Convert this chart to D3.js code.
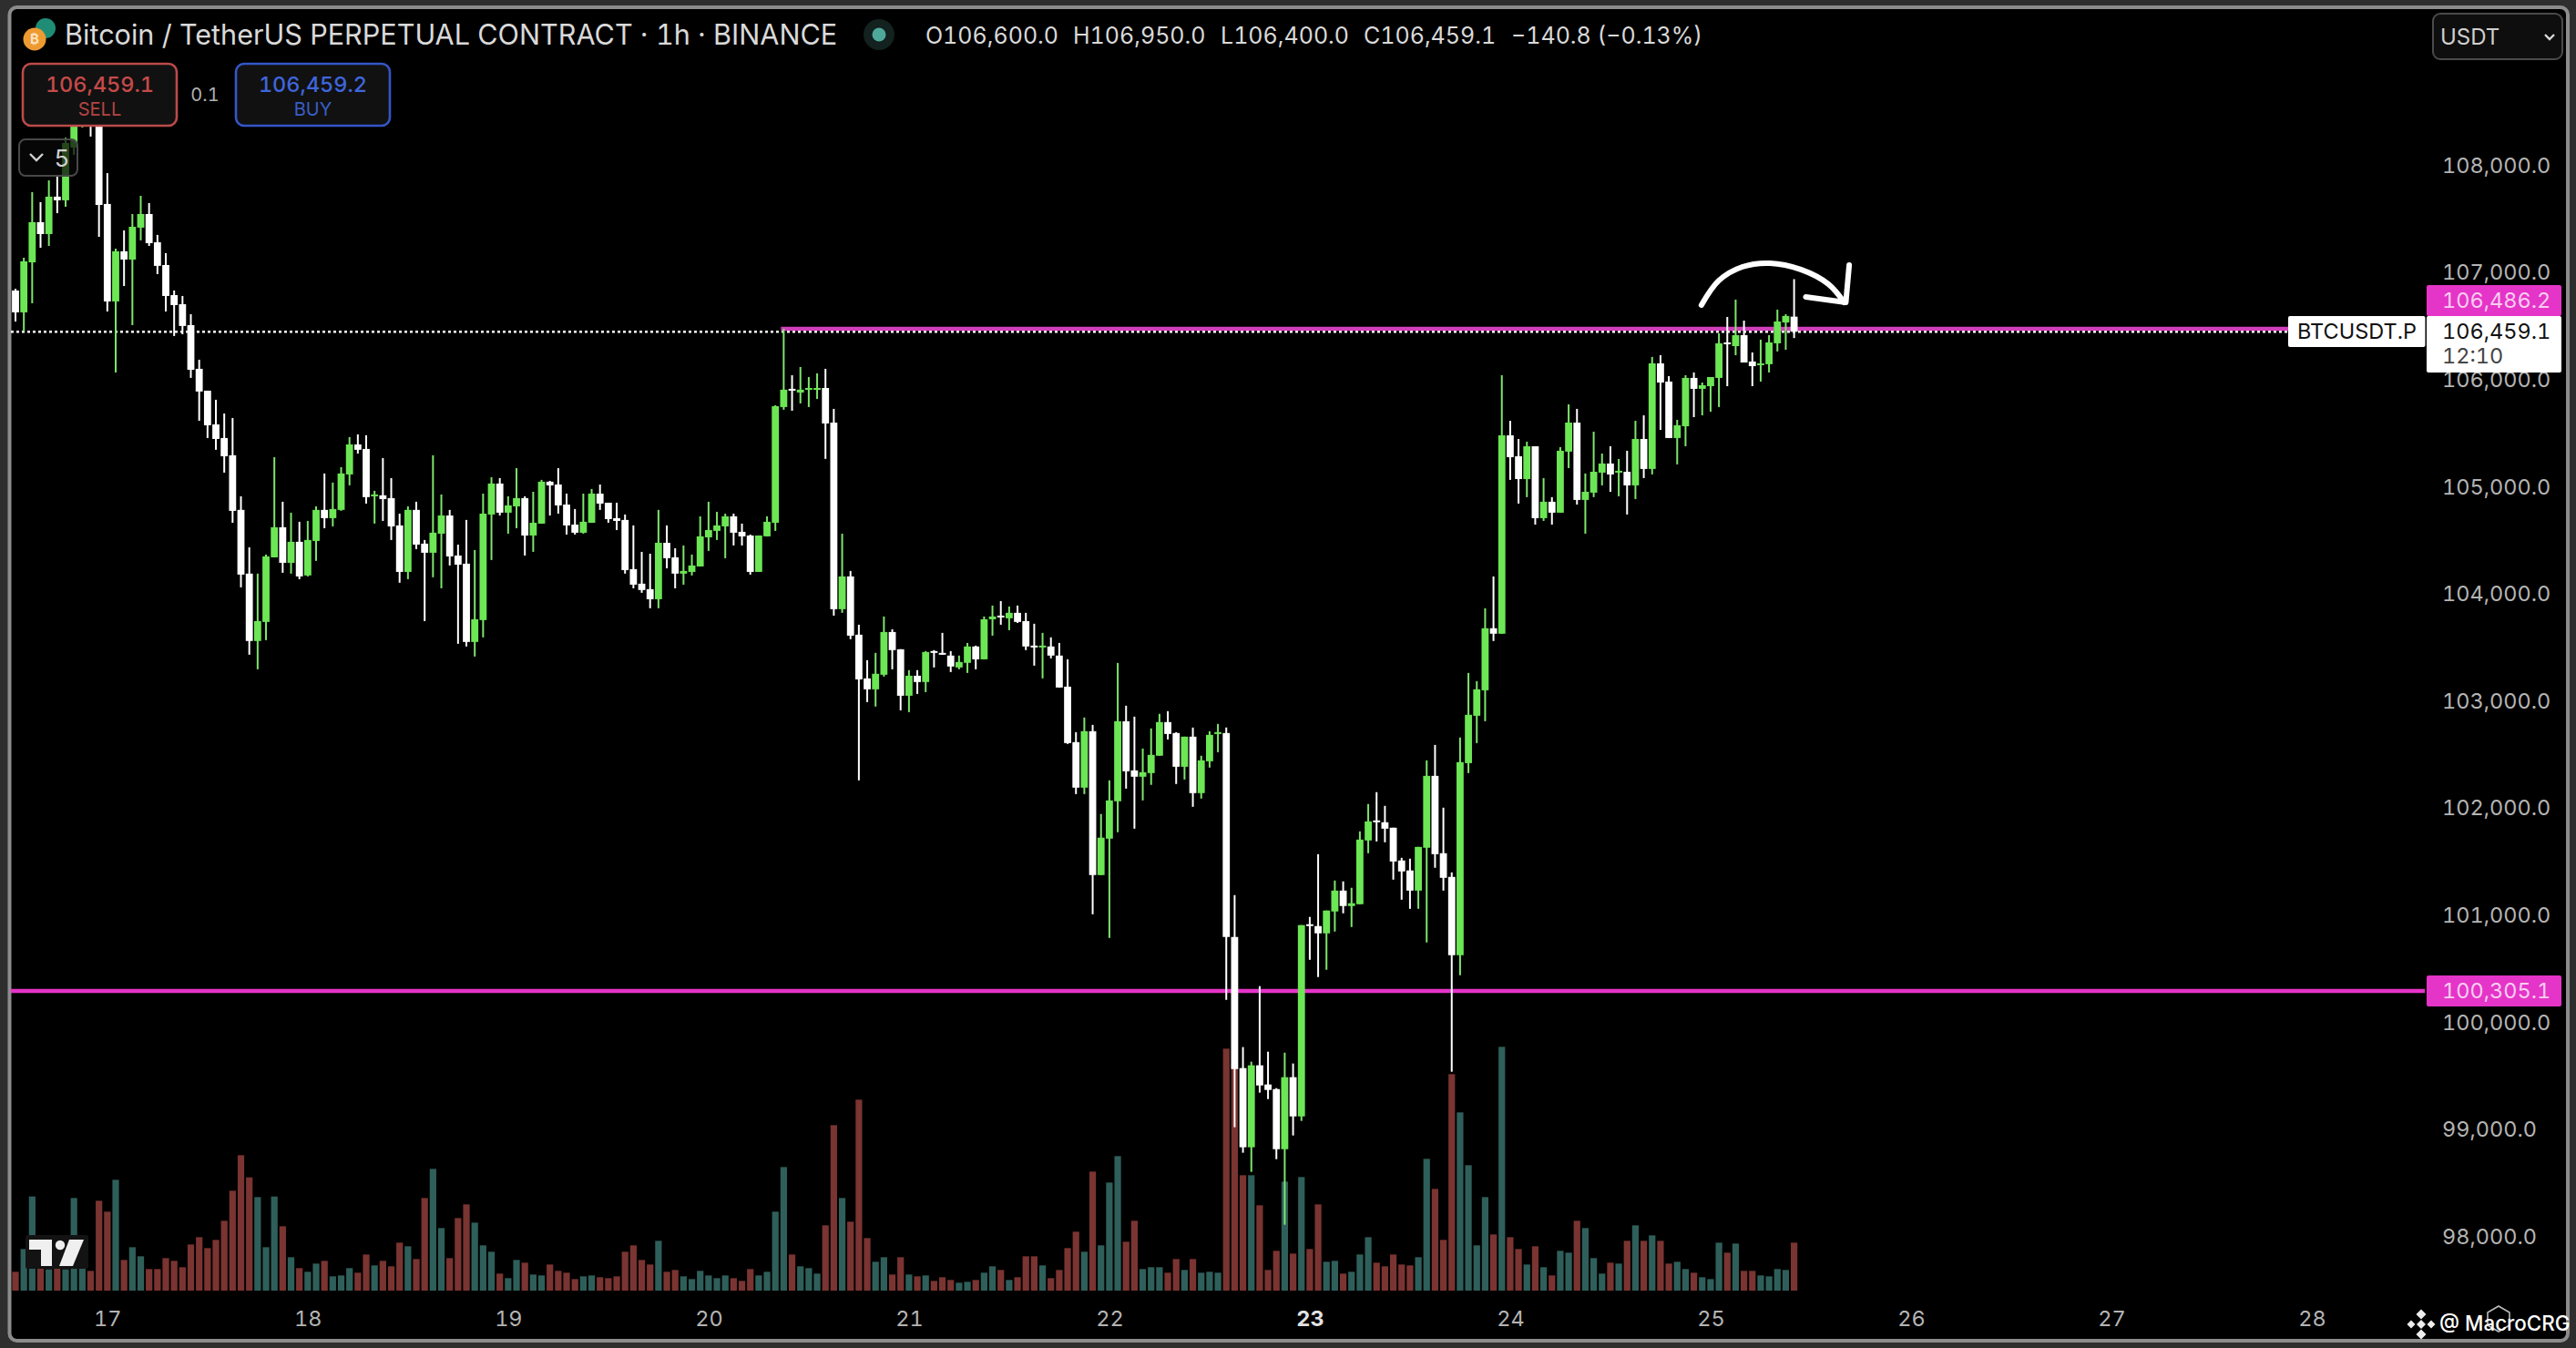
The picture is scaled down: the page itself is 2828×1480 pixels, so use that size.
<!DOCTYPE html>
<html>
<head>
<meta charset="utf-8">
<script src="https://cdnjs.cloudflare.com/ajax/libs/d3/7.9.0/d3.min.js"></script>
<style>
html,body{margin:0;padding:0;background:#2e2e2e;overflow:hidden}
svg{display:block}
text{font-family:Inter,"Noto Sans",sans-serif;font-variant-numeric:tabular-nums;font-feature-settings:"tnum" 1}
</style>
</head>
<body>
<svg id="c" width="2828" height="1480"></svg>
<script>
const opens=[
106844,106640,107107,107482,107371,107720,107686,108179,108468,108552,
108493,107652,106742,107210,107133,107431,107558,107294,107082,106801,
106716,106521,106113,105909,105594,105467,105306,104796,104201,103572,
103750,104353,104634,104302,104498,104184,104506,104796,104719,104796,
105127,105407,105365,104923,104932,104906,104651,104217,104796,104481,
104396,104574,104744,104370,104294,103563,103767,104753,105042,104770,
104829,104906,104557,104668,105059,105033,104846,104659,104583,104676,
104948,104863,104719,104702,104243,104107,104056,103962,104489,104353,
104201,104217,104268,104540,104600,104642,104736,104591,104557,104217,
104549,104676,105756,105926,105892,105926,105926,105934,105611,103869,
104175,103631,103223,103121,103257,103656,103495,103061,103248,103189,
103478,103461,103436,103325,103368,103521,103401,103775,103809,103784,
103835,103758,103529,103512,103521,103436,103146,102628,102203,102730,
101387,101727,102076,102823,102364,102305,102339,102501,102815,102713,
102398,102679,102152,102449,102713,102713,100809,99585,98846,99611,
99432,99389,98828,99500,99134,100928,100911,100843,101047,101242,
101098,101115,101710,101897,101880,101829,101523,101430,101242,101642,
102313,101591,101370,100639,102432,102874,103112,103691,103640,105492,
105297,105084,105390,104719,104872,104770,105340,105611,104889,104957,
105144,105229,105144,105152,105025,105458,105178,106164,105994,105467,
105577,106028,105926,105951,106028,106359,106325,106427,106181,106147,
106156,106351,106546,106600];
const closes=[
106640,107116,107482,107371,107720,107686,108221,108468,108552,108493,
107643,106742,107210,107133,107439,107558,107286,107074,106793,106708,
106513,106104,105901,105586,105458,105297,104787,104192,103572,103758,
104362,104634,104302,104498,104175,104515,104796,104719,104804,105136,
105407,105357,104915,104940,104897,104642,104217,104796,104472,104396,
104583,104744,104362,104285,103563,103775,104761,105042,104770,104838,
104906,104557,104676,105059,105025,104838,104651,104583,104685,104948,
104855,104710,104693,104234,104098,104048,103962,104489,104345,104201,
104226,104277,104549,104608,104651,104736,104583,104549,104217,104557,
104685,105764,105918,105909,105918,105934,105934,105603,103869,104175,
103622,103214,103121,103266,103656,103487,103061,103248,103189,103469,
103461,103444,103334,103376,103521,103401,103775,103801,103792,103835,
103750,103521,103512,103529,103436,103138,102619,102203,102730,101387,
101736,102084,102823,102356,102305,102347,102509,102815,102704,102398,
102679,102152,102458,102696,102721,100809,99576,98846,99611,99423,
99381,98828,99500,99134,100920,100911,100843,101056,101242,101098,
101124,101718,101888,101888,101820,101514,101421,101242,101650,102313,
101582,101361,100639,102441,102883,103121,103691,103640,105492,105288,
105084,105390,104719,104872,104770,105348,105611,104889,104965,105152,
105229,105127,105161,105025,105458,105178,106164,105985,105467,105586,
106028,105926,105960,106036,106351,106342,106427,106172,106138,106164,
106359,106555,106606,106459.1];
const highs=[
106861,107150,107762,107669,107872,107906,108270,108536,108663,108620,
108578,107940,107235,107405,107558,107728,107660,107363,107193,106844,
106793,106623,106198,105909,105824,105696,105654,104923,104447,104201,
104379,105288,104872,104770,104685,104693,104829,105136,105051,105195,
105476,105501,105493,104974,105280,105093,104761,104829,104872,104515,
105306,104940,104796,104472,104702,104421,104948,105101,105093,104923,
105186,104923,104965,105076,105067,105186,104948,104804,104948,104991,
105033,104863,104863,104753,104651,104404,104387,104796,104651,104438,
104464,104379,104736,104872,104778,104761,104761,104668,104566,104557,
104736,105773,106486,106053,106130,106036,106071,106113,105739,104574,
104226,103724,103393,103461,103801,103682,103495,103300,103300,103478,
103487,103648,103478,103436,103554,103529,103801,103903,103945,103894,
103903,103835,103733,103648,103606,103554,103401,102721,102858,102789,
101957,102271,103367,102968,102866,102568,102756,102892,102917,102721,
102679,102764,102501,102730,102798,102764,101200,99781,99645,100350,
99738,99398,99729,99628,100920,100996,101582,101056,101336,101328,
101268,101795,102050,102161,102033,101829,101548,101540,101650,102458,
102602,102016,101412,102670,103274,103197,103878,104175,106053,105628,
105458,105433,105390,105093,104915,105382,105781,105739,105136,105526,
105322,105390,105271,105348,105628,105679,106224,106240,106045,105637,
106053,106079,105985,106036,106444,106597,106759,106563,106266,106385,
106427,106665,106623,106950];
const lows=[
106555,106462,106725,107243,107260,107566,107626,108111,108366,108281,
107345,106648,106079,106886,106521,107312,107260,106997,106648,106419,
106436,106028,105628,105467,105357,105144,104676,104073,103444,103308,
103580,104353,104209,104201,104149,104175,104320,104625,104642,104787,
105025,105322,104855,104668,104693,104515,104116,104149,104430,103758,
104167,104064,104277,103546,103521,103427,103606,104328,104744,104574,
104625,104370,104404,104668,104744,104761,104566,104566,104574,104676,
104796,104676,104608,104201,104064,104022,103878,103878,104251,104064,
104098,104184,104268,104413,104515,104345,104464,104464,104192,104217,
104549,104600,105731,105722,105790,105756,105832,105272,103809,103835,
103589,102271,103002,102960,103240,103308,102925,102908,103078,103095,
103325,103444,103282,103308,103274,103308,103401,103622,103724,103673,
103741,103487,103342,103223,103410,103138,102611,102143,102143,101021,
101387,100800,101787,102194,101820,102084,102229,102501,102653,102237,
102279,102024,102101,102390,102534,100222,99033,98795,98616,99356,
99296,98735,98123,98956,99092,100596,100435,100503,100860,101030,
100902,101115,101591,101701,101693,101344,101157,101072,101072,100758,
101455,101242,99551,100452,102339,102619,102823,103572,103640,105076,
104855,104915,104659,104693,104659,104770,105186,104846,104574,104915,
105025,104965,104923,104753,104897,105093,105127,105543,105467,105221,
105390,105662,105679,105713,105756,105951,106240,106172,105951,105994,
106079,106275,106291,106400];
const volumes=[
62,137,310,100,70,80,70,305,125,65,
296,260,365,101,143,113,71,71,107,98,
77,152,176,140,167,230,329,446,373,308,
143,310,212,110,74,62,89,98,47,50,
74,59,119,83,98,80,158,146,104,305,
401,206,107,239,284,224,149,128,56,41,
101,92,53,50,86,65,59,38,47,50,
44,41,47,128,149,101,86,164,62,68,
47,38,65,50,41,50,41,32,71,50,
62,260,407,119,80,74,56,215,545,305,
227,629,173,95,110,53,110,53,47,50,
32,44,35,26,29,35,59,80,68,35,
44,113,113,83,41,68,140,194,128,392,
149,356,443,161,230,71,77,77,59,104,
68,104,59,62,59,797,750,380,380,281,
68,131,359,122,374,137,284,95,98,56,
62,119,176,92,80,119,86,83,110,434,
335,167,713,587,413,149,308,185,803,176,
137,86,146,77,50,131,125,230,206,107,
56,92,89,164,215,164,182,164,89,95,
71,59,44,38,158,125,155,65,65,50,
47,71,68,158];
const priceTicks=[108000,107000,106000,105000,104000,103000,102000,101000,100000,99000,98000];
const dayLabels=[17,18,19,20,21,22,23,24,25,26,27,28];
const resistance=106486.2, support=100305.1, lastPrice=106459.1;
const titleText="Bitcoin / TetherUS PERPETUAL CONTRACT · 1h · BINANCE";
const ohlcParts=["O106,600.0","H106,950.0","L106,400.0","C106,459.1","−140.8 (−0.13%)"];
// hand-drawn annotation, in (bar index, price)
const curveBars=[201.9,204.0,206.8,210.1,213.8,217.1,219.0];
const curvePrices=[106708,106938,107065,107099,107040,106904,106733];
const headBars=[214.4,219.2,219.6];
const headPrices=[106784,106733,107082];

const svg=d3.select("#c");
const x=d3.scaleLinear().domain([0,213]).range([17,1969.6]);
const y=d3.scaleLinear().domain([98000,108000]).range([1359.1,183]);
const v=d3.scaleLinear().domain([0,900]).range([1417,1117]);
const GREEN="#6ce655",WHITE="#ffffff",MAG="#e534c8",TXT="#b4b4b4";

// frame
svg.append("rect").attr("width",2828).attr("height",1480).attr("fill","#2e2e2e");
svg.append("rect").attr("x",10.5).attr("y",8).attr("width",2808.5).attr("height",1464).attr("rx",8)
  .attr("fill","#000").attr("stroke","#8c8c8c").attr("stroke-width",4);

const data=opens.map((o,i)=>({i,o,c:closes[i],h:highs[i],l:lows[i],vol:volumes[i]}));

// volume
svg.append("g").selectAll("rect").data(data).join("rect")
  .attr("x",d=>x(d.i)-3.6).attr("width",7.2)
  .attr("y",d=>v(d.vol)).attr("height",d=>v(0)-v(d.vol))
  .attr("fill",d=>d.c>=d.o?"#2f5f5a":"#7a3431");

// horizontal levels
svg.append("line").attr("x1",12).attr("x2",2512).attr("y1",y(lastPrice)).attr("y2",y(lastPrice))
  .attr("stroke","#fff").attr("stroke-width",2.4).attr("stroke-dasharray","3 3");
svg.append("line").attr("x1",x(92)-3).attr("x2",2512).attr("y1",y(resistance)).attr("y2",y(resistance))
  .attr("stroke","#d23fba").attr("stroke-width",4.4);
svg.append("line").attr("x1",12).attr("x2",2662).attr("y1",y(support)).attr("y2",y(support))
  .attr("stroke",MAG).attr("stroke-width",4.4);

// candles
const cg=svg.append("g");
cg.selectAll("line").data(data).join("line")
  .attr("x1",d=>x(d.i)).attr("x2",d=>x(d.i)).attr("y1",d=>y(d.h)).attr("y2",d=>y(d.l))
  .attr("stroke",d=>d.c>=d.o?"#7de56b":WHITE).attr("stroke-width",2);
cg.selectAll("rect").data(data).join("rect")
  .attr("x",d=>x(d.i)-3.9).attr("width",7.8)
  .attr("y",d=>y(Math.max(d.o,d.c)))
  .attr("height",d=>Math.max(2,Math.abs(y(d.o)-y(d.c))))
  .attr("fill",d=>d.c>=d.o?GREEN:WHITE);

// hand-drawn arrow
const ln=d3.line().x(d=>x(d[0])).y(d=>y(d[1]));
svg.append("path").attr("d",ln.curve(d3.curveCatmullRom)(curveBars.map((b,i)=>[b,curvePrices[i]])))
  .attr("fill","none").attr("stroke","#fff").attr("stroke-width",6).attr("stroke-linecap","round");
svg.append("path").attr("d",d3.line().x(d=>x(d[0])).y(d=>y(d[1]))(headBars.map((b,i)=>[b,headPrices[i]])))
  .attr("fill","none").attr("stroke","#fff").attr("stroke-width",6).attr("stroke-linecap","round").attr("stroke-linejoin","round");

// price axis
const ya=svg.append("g").attr("transform","translate(2681,-2)")
  .call(d3.axisRight(y).tickValues(priceTicks).tickSize(0).tickPadding(0).tickFormat(d3.format(",.1f")));
ya.select(".domain").remove();
ya.selectAll("text").attr("font-size",23.5).attr("fill",TXT).attr("font-family","Inter").attr("dy","0.35em");

// time axis
const tickIdx=dayLabels.map(d=>11+24*(d-17));
const xa=svg.append("g").attr("transform","translate(0,1448)")
  .call(d3.axisBottom(x).tickValues(tickIdx).tickSize(0).tickPadding(0).tickFormat(i=>dayLabels[tickIdx.indexOf(i)]));
xa.select(".domain").remove();
xa.selectAll("text").attr("font-size",23.5).attr("font-family","Inter").attr("dy","0.35em")
  .attr("font-weight",(d,i)=>dayLabels[i]===23?700:400).attr("fill",(d,i)=>dayLabels[i]===23?"#e2e2e2":TXT);

// price labels
function priceTag(y0,h,txt,fill,color){
  svg.append("rect").attr("x",2664).attr("y",y0).attr("width",148).attr("height",h).attr("rx",2).attr("fill",fill);
  svg.append("text").attr("x",2681).attr("y",y0+17).attr("dy","0.35em").attr("font-size",23.5).attr("fill",color).text(txt);
}
priceTag(313,34,d3.format(",.1f")(resistance),MAG,"#f8cdf0");
priceTag(347,62,d3.format(",.1f")(lastPrice),"#fff","#111");
svg.append("text").attr("x",2681).attr("y",391).attr("dy","0.35em").attr("font-size",23.5).attr("fill","#444").text("12:10");
priceTag(1071,34,d3.format(",.1f")(support),MAG,"#f8cdf0");
svg.append("rect").attr("x",2512).attr("y",347).attr("width",150.5).attr("height",34).attr("rx",2).attr("fill","#fff");
svg.append("text").attr("x",2522).attr("y",364).attr("dy","0.35em").attr("font-size",23.5).attr("fill","#111").text("BTCUSDT.P");

// header
svg.append("circle").attr("cx",50).attr("cy",31).attr("r",11).attr("fill","#1f8c76");
svg.append("circle").attr("cx",38).attr("cy",43).attr("r",12.5).attr("fill","#ee9a32");
svg.append("text").attr("x",38).attr("y",43).attr("dy","0.35em").attr("text-anchor","middle").attr("font-size",15).attr("font-weight",700).attr("fill","#fbe3c0").text("₿");
svg.append("text").attr("x",71).attr("y",38).attr("dy","0.36em").attr("font-size",30.6).attr("fill","#d9d9d9").text(titleText);
svg.append("circle").attr("cx",965).attr("cy",38).attr("r",17).attr("fill","#13211f");
svg.append("circle").attr("cx",965).attr("cy",38).attr("r",7.5).attr("fill","#4fa99b");
const ohlcX=[1016,1178,1340,1497,1659];
ohlcParts.forEach((t,i)=>svg.append("text").attr("x",ohlcX[i]).attr("y",39).attr("dy","0.35em").attr("font-size",25).attr("fill","#d9d9d9").text(t));

// sell / buy
function tradeBox(x0,w,stroke,color,price,lab){
  svg.append("rect").attr("x",x0).attr("y",70).attr("width",w).attr("height",68).attr("rx",9)
    .attr("fill","#111").attr("stroke",stroke).attr("stroke-width",2.6);
  svg.append("text").attr("x",x0+w/2).attr("y",93).attr("dy","0.35em").attr("text-anchor","middle").attr("font-size",23.5).attr("font-weight",500).attr("fill",color).text(price);
  svg.append("text").attr("x",x0+w/2).attr("y",120).attr("dy","0.35em").attr("text-anchor","middle").attr("font-size",20).attr("fill",color).attr("opacity",.9).text(lab);
}
tradeBox(25,169,"#bd4a4a","#c54a4a","106,459.1","SELL");
tradeBox(259,169,"#3456c8","#3f66dc","106,459.2","BUY");
svg.append("text").attr("x",225).attr("y",104).attr("dy","0.35em").attr("text-anchor","middle").attr("font-size",20).attr("fill","#b0b0b0").text("0.1");

// collapsed-indicators button
svg.append("rect").attr("x",21).attr("y",153).attr("width",64).attr("height",40).attr("rx",7)
  .attr("fill","rgba(8,8,8,.72)").attr("stroke","#484848").attr("stroke-width",2);
svg.append("path").attr("d","M33 169l7 7l7-7").attr("fill","none").attr("stroke","#d0d0d0").attr("stroke-width",2.4);
svg.append("text").attr("x",68).attr("y",174).attr("dy","0.35em").attr("text-anchor","middle").attr("font-size",26).attr("fill","#cfcfcf").text("5");

// currency
svg.append("rect").attr("x",2671).attr("y",15).attr("width",142).attr("height",50).attr("rx",8).attr("fill","#0e0e0e").attr("stroke","#4a4a4a").attr("stroke-width",2);
svg.append("text").attr("x",2679).attr("y",41).attr("dy","0.35em").attr("font-size",24).attr("fill","#cfcfcf").text("USDT");
svg.append("path").attr("d","M2794 38l5 5l5-5").attr("fill","none").attr("stroke","#d8d8d8").attr("stroke-width",2.4);

// TradingView logo
svg.append("rect").attr("x",28).attr("y",1356).attr("width",69).attr("height",37).attr("rx",2).attr("fill","#131313");
svg.append("path").attr("d","M32 1361h25v29h-12v-18h-13z").attr("fill","#efefef");
svg.append("circle").attr("cx",66).attr("cy",1367).attr("r",5.2).attr("fill","#efefef");
svg.append("path").attr("d","M76 1361h16l-12 29h-15z").attr("fill","#efefef");

// watermark
svg.append("path").attr("d","M2743 1434l12 7v14l-12 7l-12-7v-14z").attr("fill","none").attr("stroke","#bbb").attr("stroke-width",1.6);
const dm=(cx,cy,r)=>svg.append("path").attr("d",`M${cx} ${cy-r}l${r} ${r}l${-r} ${r}l${-r} ${-r}z`).attr("fill","#ededed");
dm(2658,1454,5);dm(2658,1443,5.5);dm(2658,1465,5.5);dm(2647,1454,4.5);dm(2669,1454,4.5);
svg.append("text").attr("x",2678).attr("y",1453).attr("dy","0.35em").attr("font-size",22.4).attr("font-weight",500).attr("fill","#fff").text("@ MacroCRG");
</script>
</body>
</html>
